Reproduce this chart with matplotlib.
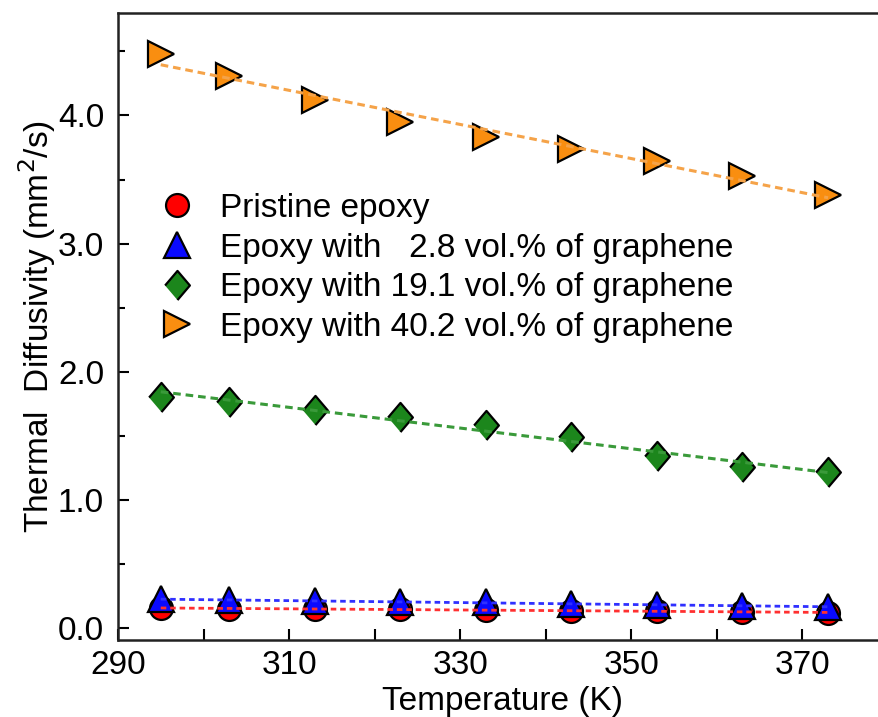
import numpy as np
import matplotlib
matplotlib.use("Agg")
import matplotlib.pyplot as plt
from matplotlib.ticker import FixedLocator, FormatStrFormatter, MultipleLocator

plt.rcParams['font.family'] = ['Liberation Sans', 'DejaVu Sans']

temperature = [295, 303, 313, 323, 333, 343, 353, 363, 373]

pristine = [0.155, 0.150, 0.150, 0.145, 0.140, 0.135, 0.130, 0.125, 0.120]
graphene_2_8 = [0.225, 0.215, 0.210, 0.205, 0.200, 0.190, 0.180, 0.170, 0.165]
graphene_19_1 = [1.806, 1.767, 1.700, 1.650, 1.585, 1.487, 1.340, 1.257, 1.215]
graphene_40_2 = [4.480, 4.305, 4.124, 3.950, 3.835, 3.737, 3.643, 3.527, 3.383]

labels = ["Pristine epoxy",
          "Epoxy with   2.8 vol.% of graphene",
          "Epoxy with 19.1 vol.% of graphene",
          "Epoxy with 40.2 vol.% of graphene"]

x_major = [290, 310, 330, 350, 370]
x_minor = [300, 320, 340, 360, 380]

fig = plt.figure(figsize=(8.79, 7.17), dpi=100)
ax = fig.add_axes([0.1342, 0.1074, 0.874, 0.8745])

diamond = [(-0.85, 0), (0, 1), (0.85, 0), (0, -1)]
series = [
    (pristine, 'o', 16.5, '#ff0000', '#ff3030', (2.0, 1.4), 2.0),
    (graphene_2_8, '^', 19, '#0a0aff', '#3030ff', (2.0, 1.4), 2.0),
    (graphene_19_1, diamond, 21, '#1c861c', '#3a9a3a', (2.5, 1.6), 2.2),
    (graphene_40_2, '>', 19, '#f98e10', '#f5a349', (2.5, 1.6), 2.2),
]

t = np.array(temperature)
for (vals, mk, ms, fc, lc, dash, lw), lab in zip(series, labels):
    ax.plot(temperature, vals, linestyle='none', marker=mk, markersize=ms,
            markerfacecolor=fc, markeredgecolor='black', markeredgewidth=1.6,
            label=lab, zorder=3)
    # linear fit of each series, drawn dashed over the points
    k, b = np.polyfit(t, vals, 1)
    ax.plot(t, k * t + b, color=lc, linestyle=(0, dash), linewidth=lw, zorder=4)

ax.set_xlim(290, 379.8)
ax.set_ylim(-0.094, 4.80)
ax.xaxis.set_major_locator(FixedLocator(x_major))
ax.xaxis.set_minor_locator(FixedLocator(x_minor))
ax.yaxis.set_major_locator(MultipleLocator(1.0))
ax.yaxis.set_minor_locator(MultipleLocator(0.5))
ax.yaxis.set_major_formatter(FormatStrFormatter('%.1f'))

ax.tick_params(axis='both', which='both', direction='in', width=1.5, labelsize=24)
ax.tick_params(axis='x', which='both', length=8, pad=7)
ax.tick_params(axis='y', which='major', length=8, pad=10)
ax.tick_params(axis='y', which='minor', length=5)
for sp in ax.spines.values():
    sp.set_linewidth(1.8)
    sp.set_color('#222222')

ax.set_xlabel("Temperature (K)", fontsize=24, labelpad=4)
ax.set_ylabel("Thermal  Diffusivity (mm$^2$/s)", fontsize=24, labelpad=0)

ax.legend(loc='upper left', bbox_to_anchor=(0.055, 0.713), frameon=False,
          fontsize=24, handlelength=1.0, handletextpad=0.78, borderpad=0,
          borderaxespad=0, labelspacing=0.26, numpoints=1)

fig.savefig("out.png", dpi=100)
